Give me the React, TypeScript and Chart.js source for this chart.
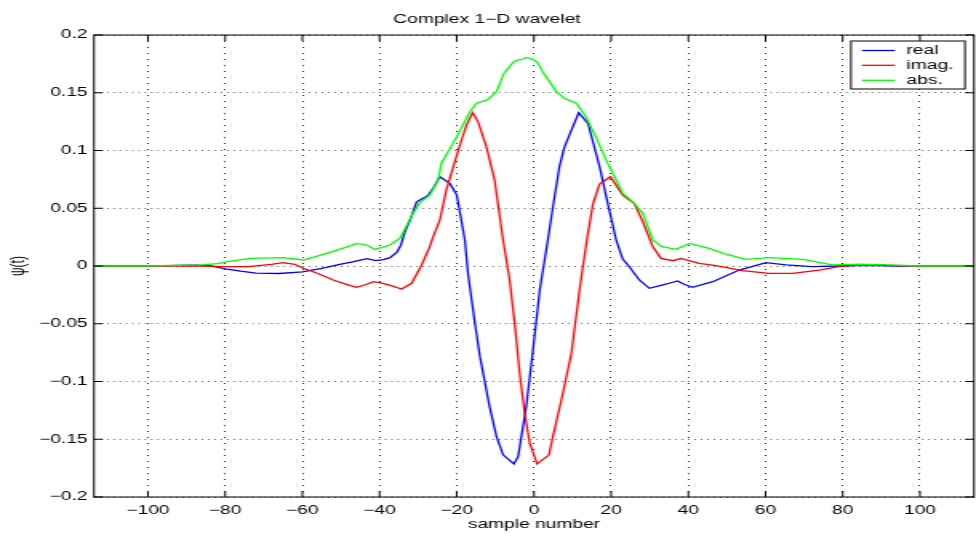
import React, { useEffect, useRef } from 'react';
import { Chart, registerables } from 'chart.js';

Chart.register(...registerables);

// ---- data ----
const realT = [-114, -100, -92, -88, -84, -80, -76, -72, -66, -60, -55, -50, -47, -43.3, -41, -39, -37.3, -35.5, -34.5, -33.4, -32.1, -30.4, -28.5, -27.4, -26, -24.4, -21.8, -20, -19, -17.9, -17.1, -15.3, -14, -11.5, -9.7, -8, -5.2, -4.1, -2, -0.25, 1.5, 3.6, 5, 6.6, 7.9, 10, 11.6, 14, 17, 19, 21.3, 23, 24.7, 27.3, 29.9, 33.4, 35.5, 37.2, 39, 41.1, 46.3, 53.2, 60.1, 65.3, 72, 79, 86, 95, 114];
const realV = [0, 0, 0.0005, 0.0008, 0.0004, -0.0025, -0.0045, -0.0062, -0.0065, -0.005, -0.002, 0.0017, 0.0035, 0.0063, 0.0046, 0.0055, 0.0072, 0.012, 0.018, 0.03, 0.0398, 0.0556, 0.059, 0.0614, 0.068, 0.0773, 0.0715, 0.0614, 0.043, 0.0225, -0.0063, -0.0496, -0.0785, -0.1217, -0.1477, -0.1635, -0.1713, -0.165, -0.1217, -0.0727, -0.0208, 0.0225, 0.053, 0.086, 0.103, 0.12, 0.1327, 0.1235, 0.086, 0.056, 0.0225, 0.006, -0.0006, -0.0121, -0.0193, -0.0164, -0.0145, -0.013, -0.016, -0.0185, -0.0136, -0.0035, 0.0029, 0.0009, -0.0006, 0, 0.0005, 0, 0];

const imagT = [-114, -100, -86, -80, -74, -68, -65, -62, -59.7, -56, -52, -48, -45.9, -43.5, -41.6, -39.9, -37, -34.3, -31.7, -29.1, -27, -26.1, -24.4, -22.7, -19.6, -17.5, -15.9, -14.5, -12.3, -10.2, -8, -6.3, -5, -3.7, -2.4, -1.1, 0.8, 3.9, 4.9, 7.1, 9.7, 11.8, 13.7, 15.3, 17, 19.8, 23, 26, 28.2, 30.8, 32.9, 36, 38.1, 42.8, 47.2, 54, 60.9, 67, 73.9, 79, 84, 90, 100, 114];
const imagV = [0, 0, 0, -0.0005, -0.0006, 0.0015, 0.0029, 0.0015, -0.002, -0.0065, -0.0121, -0.0165, -0.0185, -0.016, -0.0136, -0.0144, -0.017, -0.0199, -0.015, 0.0009, 0.0167, 0.0254, 0.0398, 0.066, 0.1004, 0.122, 0.1327, 0.125, 0.103, 0.0744, 0.0225, -0.0121, -0.0496, -0.0929, -0.1275, -0.1534, -0.1713, -0.1635, -0.1477, -0.116, -0.0756, -0.0208, 0.0225, 0.054, 0.071, 0.0773, 0.0614, 0.054, 0.0383, 0.0167, 0.0066, 0.0046, 0.0066, 0.0023, 0.0003, -0.004, -0.0063, -0.0063, -0.0035, -0.0006, 0.0008, 0.0005, 0, 0];

const absT = [-114, -100, -90, -86, -82, -79.5, -73.5, -64.9, -59.7, -53.7, -48, -45.9, -43.3, -41.2, -37.3, -34.7, -31.3, -29.6, -27, -24.8, -24, -20, -16.6, -14.9, -12, -9.7, -7.8, -5.5, -4.5, -3, -2, -0.25, 1, 2.3, 5.8, 8, 11, 13.5, 16, 18.7, 21.3, 23, 25.6, 28.2, 30.8, 33, 36.8, 40.3, 45.4, 50, 54.9, 60.9, 69.6, 77.3, 84.3, 90, 100, 114];
const absV = [0, 0, 0.0008, 0.0009, 0.002, 0.0037, 0.0066, 0.0072, 0.0052, 0.011, 0.017, 0.0196, 0.0182, 0.0144, 0.0182, 0.024, 0.0456, 0.0548, 0.0614, 0.0744, 0.089, 0.112, 0.1335, 0.141, 0.144, 0.151, 0.1667, 0.176, 0.178, 0.179, 0.1806, 0.179, 0.176, 0.168, 0.151, 0.145, 0.141, 0.129, 0.112, 0.0917, 0.0744, 0.0629, 0.0556, 0.0456, 0.0225, 0.017, 0.0144, 0.0196, 0.0153, 0.01, 0.0058, 0.0072, 0.0058, 0.0009, 0.0015, 0.0012, 0, 0];

const seriesLabels = ['real', 'imag.', 'abs.'];
const seriesColors = ['#0000ff', '#ff0000', '#00ff00'];

const titleText = 'Complex 1\u2212D wavelet';
const xTitle = 'sample number';
const yTitle = '\u03c8(t)';
const xMin = -114, xMax = 114, xStep = 20;
const yMin = -0.2, yMax = 0.2, yStep = 0.05;

// ---- layout (the reference is horizontally stretched) ----
const W = 976;
const H = 541;
const STRETCH = 1.6;
const IW = W / STRETCH;
const FONT = 'Liberation Sans, Arial, Helvetica, sans-serif';

const fmt = (v: number) => {
  const s = String(Number(v.toFixed(3)));
  return s.replace('-', '\u2212');
};

const framePlugin = {
  id: 'frame',
  afterDraw(chart: any) {
    const { ctx, chartArea: a, scales } = chart;
    ctx.save();
    ctx.strokeStyle = '#000';
    ctx.lineWidth = 1;
    ctx.setLineDash([]);
    ctx.strokeRect(a.left, a.top, a.right - a.left, a.bottom - a.top);
    ctx.beginPath();
    for (const t of scales.x.ticks) {
      const px = scales.x.getPixelForValue(t.value);
      ctx.moveTo(px, a.bottom);
      ctx.lineTo(px, a.bottom - 6);
      ctx.moveTo(px, a.top);
      ctx.lineTo(px, a.top + 6);
    }
    for (const t of scales.y.ticks) {
      const py = scales.y.getPixelForValue(t.value);
      ctx.moveTo(a.left, py);
      ctx.lineTo(a.left + 5.6, py);
      ctx.moveTo(a.right, py);
      ctx.lineTo(a.right - 5.6, py);
    }
    ctx.stroke();

    // legend box
    const bx = 851 / STRETCH, bx2 = 965 / STRETCH, by = 41, by2 = 89;
    ctx.fillStyle = '#fff';
    ctx.fillRect(bx, by, bx2 - bx, by2 - by);
    ctx.strokeStyle = '#000';
    ctx.strokeRect(bx, by, bx2 - bx, by2 - by);
    const rows = [50.5, 65.3, 80.3];
    chart.data.datasets.forEach((ds: any, i: number) => {
      ctx.strokeStyle = ds.borderColor;
      ctx.lineWidth = 1.3;
      ctx.beginPath();
      ctx.moveTo(862 / STRETCH, rows[i]);
      ctx.lineTo(895 / STRETCH, rows[i]);
      ctx.stroke();
      ctx.fillStyle = '#000';
      ctx.font = `12px ${FONT}`;
      ctx.textAlign = 'left';
      ctx.textBaseline = 'middle';
      ctx.fillText(ds.label, 906.5 / STRETCH, rows[i] + 0.5);
    });
    ctx.restore();
  },
};

export default function App() {
  const ref = useRef<HTMLCanvasElement | null>(null);
  useEffect(() => {
    if (!ref.current) return;
    const mk = (ts: number[], vs: number[]) => ts.map((t, i) => ({ x: t, y: vs[i] }));
    const datasets = [
      { label: seriesLabels[0], data: mk(realT, realV), borderColor: seriesColors[0], order: 3 },
      { label: seriesLabels[1], data: mk(imagT, imagV), borderColor: seriesColors[1], order: 2 },
      { label: seriesLabels[2], data: mk(absT, absV), borderColor: seriesColors[2], order: 1 },
    ].map((d) => ({
      ...d,
      backgroundColor: d.borderColor,
      borderWidth: 1.3,
      pointRadius: 0,
      tension: 0,
      fill: false,
    }));
    const chart = new Chart(ref.current, {
      type: 'line',
      data: { datasets },
      options: {
        animation: false,
        responsive: false,
        devicePixelRatio: 1,
        layout: { padding: { left: 0, right: IW - 974 / STRETCH, top: 0, bottom: 0 } },
        plugins: {
          legend: { display: false },
          tooltip: { enabled: false },
          title: {
            display: true,
            text: titleText,
            color: '#000',
            font: { family: FONT, size: 12, weight: 'normal' },
            padding: { top: 12.8, bottom: 7.8 },
          },
        },
        scales: {
          x: {
            type: 'linear',
            min: xMin,
            max: xMax,
            afterFit: (s: any) => { s.height = 44; },
            ticks: {
              stepSize: xStep,
              includeBounds: false,
              autoSkip: false,
              maxRotation: 0,
              padding: 6,
              color: '#000',
              font: { family: FONT, size: 12 },
              callback: (v: any) => fmt(Number(v)),
            },
            grid: { drawTicks: false, color: 'rgba(0,0,0,0.85)', lineWidth: 1 },
            border: { display: false, dash: [1, 5] },
            title: {
              display: true,
              text: xTitle,
              color: '#000',
              font: { family: FONT, size: 12 },
              padding: { top: 0, bottom: 9.5 },
            },
          },
          y: {
            type: 'linear',
            min: yMin,
            max: yMax,
            afterFit: (s: any) => { s.width = 94 / STRETCH; },
            ticks: {
              stepSize: yStep,
              autoSkip: false,
              padding: 4,
              color: '#000',
              font: { family: FONT, size: 12 },
              callback: (v: any) => fmt(Number(v)),
            },
            grid: { drawTicks: false, color: 'rgba(0,0,0,0.85)', lineWidth: 1 },
            border: { display: false, dash: [0.7, 3.25] },
            title: {
              display: true,
              text: yTitle,
              color: '#000',
              font: { family: FONT, size: 12 },
              padding: { top: 4, bottom: 0 },
            },
          },
        },
      },
      plugins: [framePlugin],
    } as any);
    return () => chart.destroy();
  }, []);

  return (
    <div style={{ position: 'fixed', left: 0, top: 0, width: W, height: H, background: '#fff' }}>
      <canvas
        ref={ref}
        width={IW}
        height={H}
        style={{ display: 'block', width: `${W}px`, height: `${H}px` }}
      />
    </div>
  );
}
